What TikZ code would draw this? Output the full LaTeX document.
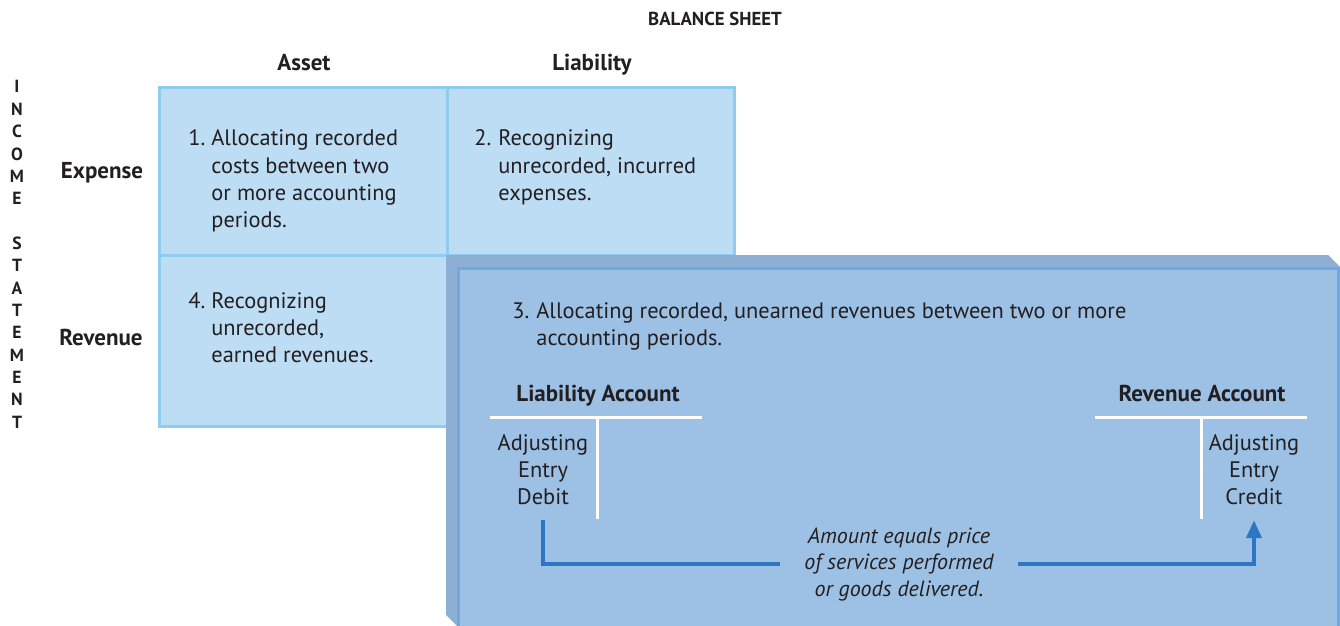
\documentclass[tikz,border=0pt]{standalone}
\usepackage{fontspec}
\setmainfont{PT Sans}
\usetikzlibrary{positioning}
\usetikzlibrary{arrows.meta}

\definecolor{gridfill}{HTML}{BDDDF4}
\definecolor{gridedge}{HTML}{8FCDF0}
\definecolor{boxfill}{HTML}{9CC1E5}
\definecolor{boxedge}{HTML}{6EA8DF}
\definecolor{boxbevel}{HTML}{8DAFD4}
\definecolor{flowblue}{HTML}{2E75C2}
\definecolor{ink}{HTML}{231F20}

\tikzset{
  body/.style={inner sep=0,text=ink,font=\fontsize{11.2}{13.65}\selectfont},
  head/.style={inner sep=0,text=ink,font=\bfseries\fontsize{11.5}{13.8}\selectfont},
  title/.style={inner sep=0,text=ink,font=\bfseries\fontsize{9.4}{11.3}\selectfont},
  side/.style={inner sep=0,text=ink,font=\bfseries\fontsize{8.8}{11.17}\selectfont},
  note/.style={inner xsep=12pt,inner ysep=0,text=ink,font=\itshape\fontsize{11}{13.25}\selectfont},
  tline/.style={draw=white,line width=1.5pt},
  flow/.style={draw=flowblue,line width=2pt}
}

\begin{document}
\begin{tikzpicture}[x=0.5pt,y=-0.5pt]

    \useasboundingbox (0,0) rectangle (1340,626);

    % Grid of the four adjustments
    \draw [gridedge,fill=gridfill,line width=1.5pt] (159,88) rectangle (734,426);
    \draw [gridedge,line width=1.5pt] (447,88) -- (447,426);
    \draw [gridedge,line width=1.5pt] (159,255) -- (734,255);

    % Raised panel for case 3
    \fill [boxbevel] (446,255) -- (1328,255) -- (1340,267) -- (1340,626)
        -- (457,626) -- (446,615) -- cycle;
    \draw [boxedge,fill=boxfill,line width=1.5pt] (458.5,268.5) rectangle (1338.5,640);

    % Place nodes
    \node [title] (bs) at (715,19) {BALANCE SHEET};
    \node [head,anchor=base] (asset) at (304,71) {Asset};
    \node [head,anchor=base] (liab) at (592,71) {Liability};
    \node [head,anchor=base] (expense) at (102,178) {Expense};
    \node [head,anchor=base] (revenue) at (101,345) {Revenue};
    \node [side,anchor=base] (income) at (17,93)
        {\begin{tabular}[t]{@{}c@{}}I\\N\\C\\O\\M\\E\\ \\S\\T\\A\\T\\E\\M\\E\\N\\T\end{tabular}};

    \node [body,anchor=base west] (case1) at (188,146)
        {\begin{tabular}[t]{@{}p{11.5pt}@{}l@{}}1. & Allocating recorded\\ & costs between two\\
         & or more accounting\\ & periods.\end{tabular}};
    \node [body,anchor=base west] (case2) at (474,146)
        {\begin{tabular}[t]{@{}p{12pt}@{}l@{}}2. & Recognizing\\ & unrecorded, incurred\\
         & expenses.\end{tabular}};
    \node [body,anchor=base west] (case4) at (188,308)
        {\begin{tabular}[t]{@{}p{11.5pt}@{}l@{}}4. & Recognizing\\ & unrecorded,\\
         & earned revenues.\end{tabular}};
    \node [body,anchor=base west] (case3) at (512,318)
        {\begin{tabular}[t]{@{}p{12pt}@{}l@{}}3. & Allocating recorded, unearned revenues between two or more\\
         & accounting periods.\end{tabular}};

    % T accounts
    \node [head,anchor=base] (liabacct) at (598,401) {Liability Account};
    \node [head,anchor=base] (revacct) at (1202,401) {Revenue Account};
    \draw [tline] (490,417.5) -- (702,417.5);
    \draw [tline] (597,417.5) -- (597,519);
    \draw [tline] (1095,417.5) -- (1307,417.5);
    \draw [tline] (1201,417.5) -- (1201,519);

    \node [body,anchor=base] (debit) at (543,450)
        {\begin{tabular}[t]{@{}c@{}}Adjusting\\Entry\\Debit\end{tabular}};
    \node [body,anchor=base] (credit) at (1254,450)
        {\begin{tabular}[t]{@{}c@{}}Adjusting\\Entry\\Credit\end{tabular}};
    \node [note,anchor=base] (amount) at (899,543)
        {\begin{tabular}[t]{@{}c@{}}Amount equals price\\of services performed\\or goods delivered.\end{tabular}};

    % Debit to credit
    \draw [flow,shorten <=3.5pt] (debit.south) |- (amount.west);
    \draw [flow,-{Triangle[length=9pt,width=7.5pt]},shorten >=3.5pt] (amount.east) -| (credit.south);

\end{tikzpicture}
\end{document}
